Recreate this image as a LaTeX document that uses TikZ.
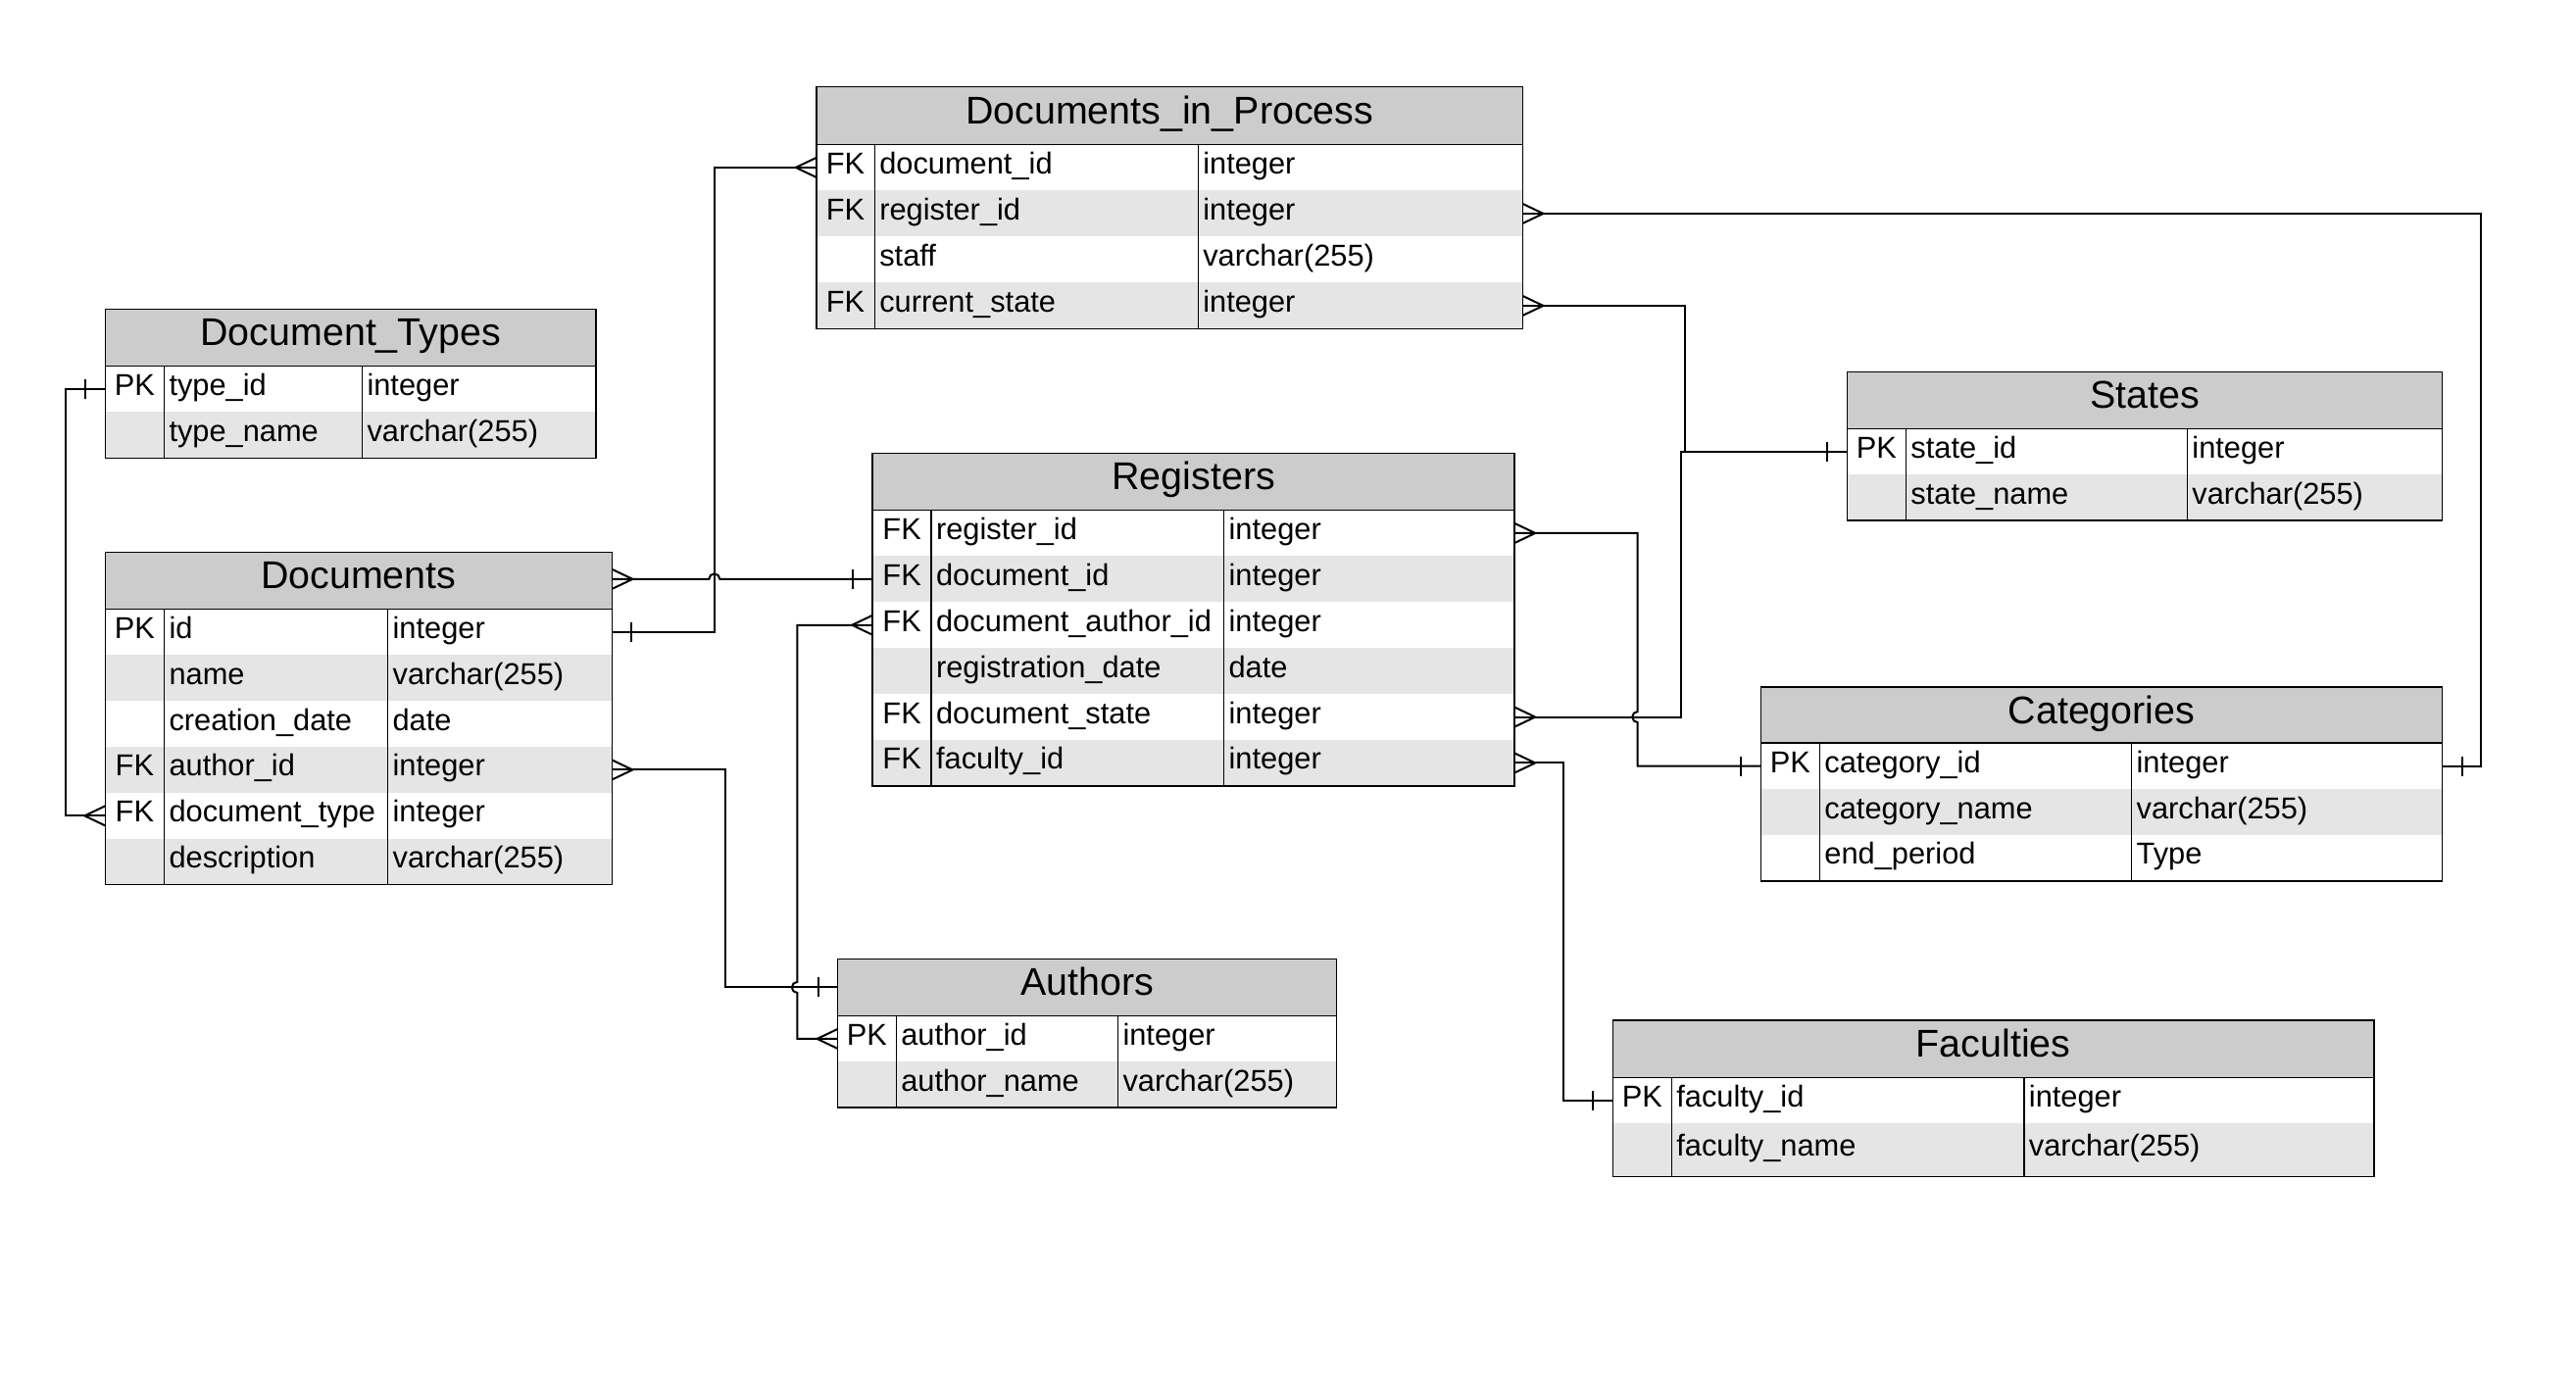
\documentclass[tikz,border=0pt]{standalone}
\usepackage{fontspec}
\setmainfont{Liberation Sans}
\usetikzlibrary{fit,calc}
\definecolor{hdrgray}{HTML}{CCCCCC}
\definecolor{altgray}{HTML}{E5E5E5}
\tikzset{
  ttl/.style={font=\fontsize{19.7}{22}\selectfont, inner sep=0pt, outer sep=0pt},
  cell/.style={font=\fontsize{15.4}{18}\selectfont, inner sep=0pt, outer sep=0pt},
  tframe/.style={line width=0.75pt, draw=black},
  conn/.style={line width=1pt, draw=black},
  rowbox/.style={inner sep=0pt, outer sep=0pt},
}
\newcommand{\ertable}[8]{%
  \fill[hdrgray] (#2,#4) rectangle (#3,#5);
  \node[rowbox, fit={(#2,#4) (#3,#5)}] (#1-h) {};
  \node[ttl, anchor=base] (#1-title) at ({(#2+#3)/2},{(#4+#5)/2+8.5}) {#8};
  \gdef\tN{#1}\gdef\tL{#2}\gdef\tR{#3}\gdef\tT{#4}\gdef\tTB{#5}\gdef\tA{#6}\gdef\tB{#7}}
\newcommand{\errows}[1]{%
  \foreach \i/\ta/\tb/\k/\f/\ty/\sh in {#1}{%
    \ifnum\sh=1 \fill[altgray] (\tL,\ta) rectangle (\tR,\tb);\fi
    \node[rowbox, fit={(\tL,\ta) (\tR,\tb)}] (\tN-\i) {};
    \node[cell, anchor=base] (\tN-\i-k) at ({(\tL+\tA)/2},{(\ta+\tb)/2+6.5}) {\k};
    \node[cell, anchor=base west] (\tN-\i-f) at ({\tA+5},{(\ta+\tb)/2+6.5}) {\f};
    \node[cell, anchor=base west] (\tN-\i-y) at ({\tB+5},{(\ta+\tb)/2+6.5}) {\ty};
    \xdef\tBot{\tb}%
  }%
  \draw[tframe] (\tL,\tT) rectangle (\tR,\tBot);
  \draw[tframe] (\tL,\tTB) -- (\tR,\tTB) (\tA,\tTB) -- (\tA,\tBot) (\tB,\tTB) -- (\tB,\tBot);
}
\newcommand\crowL[1]{\draw[conn] ($(#1)+(-21,0)$) -- ($(#1)+(0,-10)$) ($(#1)+(-21,0)$) -- ($(#1)+(0,10)$);}
\newcommand\crowR[1]{\draw[conn] ($(#1)+(21,0)$) -- ($(#1)+(0,-10)$) ($(#1)+(21,0)$) -- ($(#1)+(0,10)$);}
\newcommand\barL[1]{\draw[conn] ($(#1)+(-20,-10)$) -- ($(#1)+(-20,10)$);}
\newcommand\barR[1]{\draw[conn] ($(#1)+(20,-10)$) -- ($(#1)+(20,10)$);}
\begin{document}
\begin{tikzpicture}[x=0.5pt, y=-0.5pt]
\fill[white] (0,0) rectangle (2628,1405);
\useasboundingbox (0,0) rectangle (2628,1405);

% Document_Types
\ertable{dt}{107.3}{608.2}{315.4}{373.4}{167.5}{369.5}{Document\_Types}
\errows{1/373.4/420.4/PK/type\_id/integer/0, 2/420.4/467.3//type\_name/varchar(255)/1}

% Documents
\ertable{doc}{107.3}{624.4}{563.3}{621.3}{167.5}{395.6}{Documents}
\errows{1/621.3/668.2/PK/id/integer/0, 2/668.2/715.1//name/varchar(255)/1, 3/715.1/762.0//creation\_date/date/0, 4/762.0/808.9/FK/author\_id/integer/1, 5/808.9/855.8/FK/document\_type/integer/0, 6/855.8/902.7//description/varchar(255)/1}

% Documents_in_Process
\ertable{dip}{832.8}{1553.4}{88.7}{147.4}{892.3}{1222.3}{Documents\_in\_Process}
\errows{1/147.4/194.4/FK/document\_id/integer/0, 2/194.4/241.4/FK/register\_id/integer/1, 3/241.4/288.4//staff/varchar(255)/0, 4/288.4/335.4/FK/current\_state/integer/1}

% Registers
\ertable{reg}{890.2}{1545.2}{462.4}{520.5}{950.1}{1248.6}{Registers}
\errows{1/520.5/567.4/FK/register\_id/integer/0, 2/567.4/614.3/FK/document\_id/integer/1, 3/614.3/661.2/FK/document\_author\_id/integer/0, 4/661.2/708.1//registration\_date/date/1, 5/708.1/755.0/FK/document\_state/integer/0, 6/755.0/801.9/FK/faculty\_id/integer/1}

% States
\ertable{sta}{1884.4}{2491.6}{379.4}{437.4}{1944.4}{2231.4}{States}
\errows{1/437.4/484.3/PK/state\_id/integer/0, 2/484.3/531.2//state\_name/varchar(255)/1}

% Categories
\ertable{cat}{1796.4}{2491.6}{700.8}{758.2}{1856.4}{2174.6}{Categories}
\errows{1/758.2/805.1/PK/category\_id/integer/0, 2/805.1/852.0//category\_name/varchar(255)/1, 3/852.0/898.9//end\_period/Type/0}

% Authors
\ertable{aut}{854.6}{1363.4}{978.3}{1036.5}{914.3}{1140.5}{Authors}
\errows{1/1036.5/1083.3/PK/author\_id/integer/0, 2/1083.3/1130.1//author\_name/varchar(255)/1}

% Faculties
\ertable{fac}{1645.3}{2422.0}{1041.0}{1099.3}{1705.3}{2064.9}{Faculties}
\errows{1/1099.3/1145.7/PK/faculty\_id/integer/0, 2/1145.7/1200.7//faculty\_name/varchar(255)/1}

% ---------- connectors ----------
% Document_Types.type_id -- Documents.document_type
\draw[conn] (dt-1.west) -- ++(-40.8,0) |- (doc-5.west);
\barL{dt-1.west}
\crowL{doc-5.west}

% Documents (header) -- Registers.document_id
\coordinate (c2s) at (doc-h.east |- reg-2.west);
\draw[conn] (c2s) -- (723.3,590.85) arc (180:360:5.5) -- (reg-2.west);
\crowR{c2s}
\barL{reg-2.west}

% Documents.id -- Documents_in_Process.document_id
\draw[conn] (doc-1.east) -- ++(104.4,0) |- (dip-1.west);
\barR{doc-1.east}
\crowL{dip-1.west}

% Documents.author_id -- Authors (header)
\draw[conn] (doc-4.east) -- ++(115.3,0) |- (aut-h.west);
\crowR{doc-4.east}
\barL{aut-h.west}

% Registers.document_author_id -- Authors.author_id
\draw[conn] (reg-3.west) -- ++(-76.9,0) -- (813.3,1001.9) arc (270:90:5.5) |- (aut-1.west);
\crowL{reg-3.west}
\crowL{aut-1.west}

% Documents_in_Process.register_id -- Categories.category_id
\draw[conn] (dip-2.east) -- ++(977.7,0) |- (cat-1.east);
\crowR{dip-2.east}
\barR{cat-1.east}

% Documents_in_Process.current_state -- States.state_id
\draw[conn] (dip-4.east) -- ++(165.2,0) |- (sta-1.west);
\crowR{dip-4.east}

% Registers.document_state -- States.state_id
\draw[conn] (reg-5.east) -- ++(169.6,0) |- (sta-1.west);
\crowR{reg-5.east}
\barL{sta-1.west}

% Registers.register_id -- Categories.category_id
\draw[conn] (reg-1.east) -- ++(125.5,0) -- (1670.7,726.05) arc (270:90:5.5) |- (cat-1.west);
\crowR{reg-1.east}
\barL{cat-1.west}

% Registers.faculty_id -- Faculties.faculty_id
\draw[conn] (reg-6.east) -- ++(49.5,0) |- (fac-1.west);
\crowR{reg-6.east}
\barL{fac-1.west}
\end{tikzpicture}
\end{document}
